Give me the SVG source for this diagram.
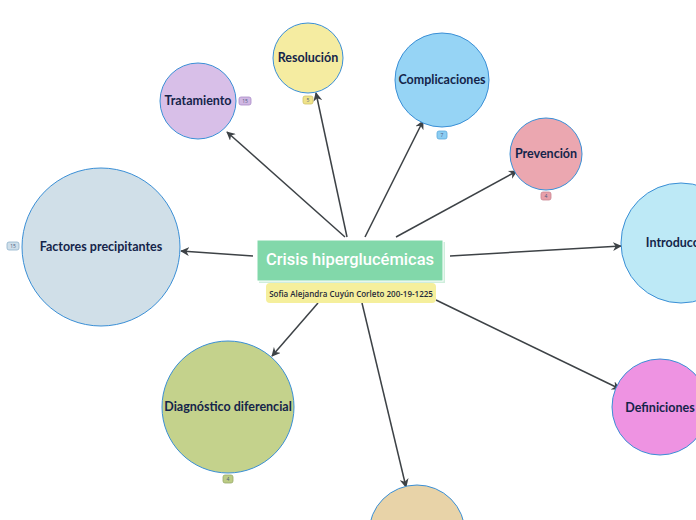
<svg xmlns="http://www.w3.org/2000/svg" width="696" height="520" viewBox="0 0 696 520">
<defs>
<marker id="arr" viewBox="0 0 10 10" refX="9" refY="5" markerWidth="9" markerHeight="9" markerUnits="userSpaceOnUse" orient="auto">
<path d="M0,0 L10,5 L0,10 L3,5 z" fill="#3d4246"/>
</marker>
<style>
.c{stroke:#3a8fd6;stroke-width:1}
.t{font-family:Lato,"Open Sans",sans-serif;font-weight:700;fill:#14244a;text-anchor:middle;dominant-baseline:central;font-size:12.5px}
.e{stroke:#3d4246;stroke-width:1.5;fill:none;marker-end:url(#arr)}
.b{stroke-width:0.8}
.bt{font-family:"Open Sans",sans-serif;font-size:5px;text-anchor:middle;dominant-baseline:central;fill:#4a5a80}
</style>
</defs>
<rect width="696" height="520" fill="#ffffff"/>
<g id="connectors">
<line class="e" x1="345" y1="237" x2="227" y2="132"/>
<line class="e" x1="347" y1="237" x2="316" y2="93"/>
<line class="e" x1="365" y1="237" x2="423" y2="121"/>
<line class="e" x1="396" y1="237" x2="517" y2="171"/>
<line class="e" x1="253" y1="256" x2="181" y2="251"/>
<line class="e" x1="450" y1="256" x2="621" y2="246"/>
<line class="e" x1="318" y1="303" x2="272" y2="356"/>
<line class="e" x1="362" y1="303" x2="406" y2="487"/>
<line class="e" x1="436" y1="300" x2="620" y2="389"/>
</g>
<g id="resolucion">
<circle class="c" cx="308" cy="58" r="35" fill="#f5eca1"/>
<text class="t" x="308" y="57">Resolución</text>
<rect class="b" x="303" y="96" width="10" height="8" rx="2" fill="#efe38a" stroke="#d2c469"/>
<text class="bt" x="308" y="100">5</text>
</g>
<g id="tratamiento">
<circle class="c" cx="198" cy="101" r="38" fill="#d8bfe8"/>
<text class="t" x="198" y="100">Tratamiento</text>
<rect class="b" x="239" y="97" width="12" height="8" rx="2" fill="#d1b8e3" stroke="#a98cc8"/>
<text class="bt" x="245" y="101">15</text>
</g>
<g id="complicaciones">
<circle class="c" cx="442" cy="80" r="47" fill="#96d4f5"/>
<text class="t" x="442" y="79">Complicaciones</text>
<rect class="b" x="437" y="131" width="10" height="8" rx="2" fill="#8ccdf2" stroke="#5ba9dc"/>
<text class="bt" x="442" y="135">7</text>
</g>
<g id="prevencion">
<circle class="c" cx="546" cy="154" r="36" fill="#eba7b0"/>
<text class="t" x="546" y="153">Prevención</text>
<rect class="b" x="541" y="192" width="10" height="8" rx="2" fill="#e8a0aa" stroke="#c98592"/>
<text class="bt" x="546" y="196">4</text>
</g>
<g id="factores">
<circle class="c" cx="101" cy="247" r="79" fill="#d0dfe8"/>
<text class="t" x="101" y="246">Factores precipitantes</text>
<rect class="b" x="7" y="242" width="12" height="8" rx="2" fill="#cfdfea" stroke="#8fb1cc"/>
<text class="bt" x="13" y="246">15</text>
</g>
<g id="introduccion">
<circle class="c" cx="681" cy="243" r="60" fill="#bde9f6"/>
<text class="t" x="681" y="242">Introducción</text>
</g>
<g id="definiciones">
<circle class="c" cx="660" cy="407" r="48" fill="#ee93e2"/>
<text class="t" x="660" y="407">Definiciones</text>
</g>
<g id="diagnostico">
<circle class="c" cx="228" cy="407" r="66" fill="#c4d28c"/>
<text class="t" x="228" y="406">Diagnóstico diferencial</text>
<rect class="b" x="223" y="475" width="10" height="8" rx="2" fill="#bccc84" stroke="#98aa6a"/>
<text class="bt" x="228" y="479">4</text>
</g>
<g id="inferior">
<circle class="c" cx="417" cy="533" r="48" fill="#e8d3a8"/>
</g>
<g id="central">
<rect x="259" y="242" width="186" height="41" fill="#cfeedc"/>
<rect x="257" y="240" width="186" height="41" fill="#82d8aa" stroke="#ffffff" stroke-width="1"/>
<text x="350" y="259" font-family="Roboto,'Liberation Sans',sans-serif" font-size="16.5" font-weight="500" fill="#ffffff" text-anchor="middle" dominant-baseline="central">Crisis hiperglucémicas</text>
<rect x="266" y="283" width="170" height="20" rx="4" fill="#f5ef9c"/>
<text x="351" y="293" font-family="'Open Sans',sans-serif" font-size="8" font-weight="600" fill="#1f2a3a" text-anchor="middle" dominant-baseline="central">Sofia Alejandra Cuyún Corleto  200-19-1225</text>
</g>
</svg>
